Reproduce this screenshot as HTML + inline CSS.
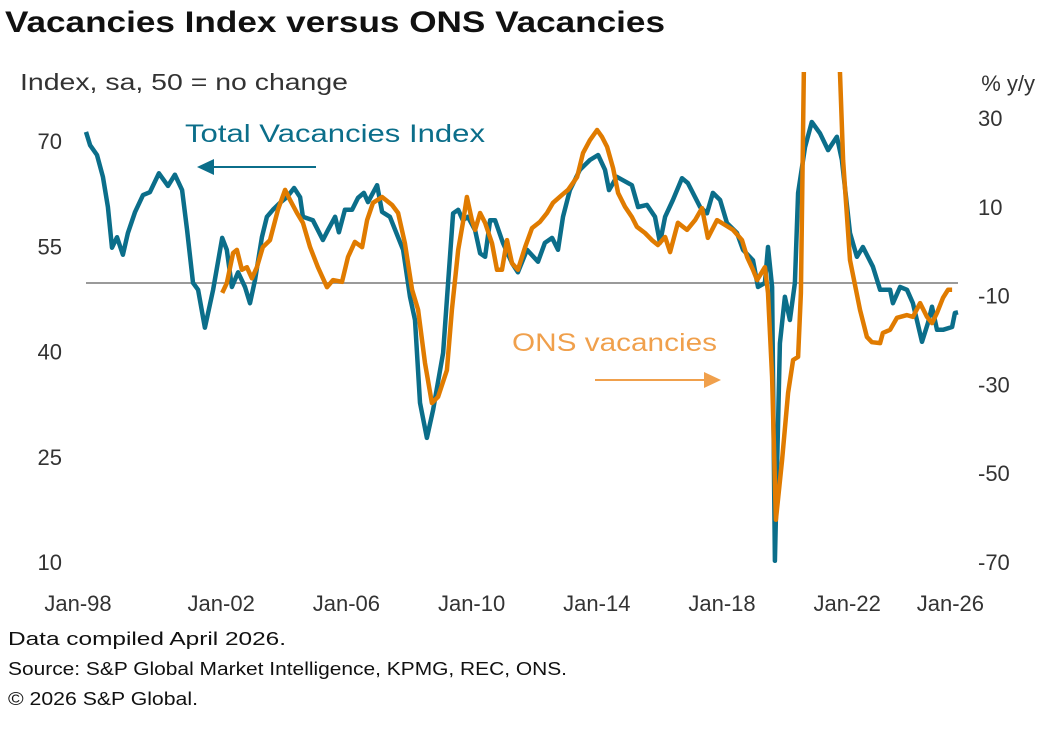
<!DOCTYPE html>
<html><head><meta charset="utf-8"><style>
body{margin:0;background:#fff;font-family:"Liberation Sans",sans-serif;}
svg text{font-family:"Liberation Sans",sans-serif;}
</style></head><body>
<svg id="c" width="1053" height="727" viewBox="0 0 1053 727">
<text x="5" y="32" font-size="30" font-weight="bold" fill="#111" textLength="660" lengthAdjust="spacingAndGlyphs">Vacancies Index versus ONS Vacancies</text>
<text x="20" y="90" font-size="23" fill="#333" textLength="328" lengthAdjust="spacingAndGlyphs">Index, sa, 50 = no change</text>
<text x="1035" y="91" font-size="22" fill="#333" text-anchor="end">% y/y</text>
<g id="ticks"></g>
<defs><clipPath id="clip"><rect x="60" y="72" width="920" height="500"/></clipPath></defs>
<line x1="86" y1="283" x2="958" y2="283" stroke="#9a9a9a" stroke-width="2"/>
<g clip-path="url(#clip)">
<path id="teal" fill="none" stroke="#0b6e8a" stroke-width="4.5" stroke-linejoin="round"/>
<path id="orange" fill="none" stroke="#e07b00" stroke-width="4.5" stroke-linejoin="round"/>
</g>
<text x="185" y="142" font-size="25" fill="#0b6e8a" textLength="300" lengthAdjust="spacingAndGlyphs">Total Vacancies Index</text>
<g><line x1="316" y1="167" x2="212" y2="167" stroke="#0b6e8a" stroke-width="2"/><polygon points="197,167 214,159 214,175" fill="#0b6e8a"/></g>
<text x="512" y="351" font-size="25" fill="#f0a04c" textLength="205" lengthAdjust="spacingAndGlyphs">ONS vacancies</text>
<g><line x1="595" y1="380" x2="705" y2="380" stroke="#f0a04c" stroke-width="2"/><polygon points="721,380 704,372 704,388" fill="#f0a04c"/></g>
<text x="8" y="645" font-size="18" fill="#111" textLength="278" lengthAdjust="spacingAndGlyphs">Data compiled April 2026.</text>
<text x="8" y="675" font-size="18" fill="#111" textLength="559" lengthAdjust="spacingAndGlyphs">Source: S&amp;P Global Market Intelligence, KPMG, REC, ONS.</text>
<text x="8" y="705" font-size="18" fill="#111" textLength="190" lengthAdjust="spacingAndGlyphs">© 2026 S&amp;P Global.</text>
</svg>
<script>
const leftTicks=[70,55,40,25,10];
const rightTicks=[30,10,-10,-30,-50,-70];
const xTickYears=[1998,2002,2006,2010,2014,2018,2022,2026];
const xTickLabels=["Jan-98","Jan-02","Jan-06","Jan-10","Jan-14","Jan-18","Jan-22","Jan-26"];
const idxDates=[1998.0,1998.13,1998.35,1998.54,1998.70,1998.83,1998.99,1999.18,1999.34,1999.57,1999.82,2000.04,2000.33,2000.62,2000.84,2001.07,2001.23,2001.42,2001.58,2001.80,2002.06,2002.35,2002.50,2002.66,2002.86,2003.08,2003.24,2003.40,2003.62,2003.78,2003.97,2004.20,2004.42,2004.65,2004.84,2004.93,2005.25,2005.57,2005.73,2005.96,2006.08,2006.27,2006.50,2006.69,2006.88,2007.01,2007.30,2007.46,2007.71,2008.13,2008.35,2008.51,2008.67,2008.89,2009.09,2009.41,2009.57,2009.73,2009.89,2010.04,2010.20,2010.43,2010.59,2010.75,2010.91,2011.07,2011.32,2011.61,2011.80,2012.09,2012.44,2012.66,2012.89,2013.08,2013.24,2013.46,2013.78,2014.10,2014.36,2014.58,2014.71,2014.96,2015.16,2015.44,2015.64,2015.92,2016.18,2016.34,2016.50,2016.75,2017.04,2017.23,2017.39,2017.62,2017.84,2018.03,2018.26,2018.48,2018.80,2018.99,2019.31,2019.47,2019.69,2019.79,2019.92,2020.01,2020.17,2020.33,2020.49,2020.65,2020.75,2020.97,2021.19,2021.45,2021.71,2021.99,2022.15,2022.41,2022.63,2022.82,2023.14,2023.37,2023.69,2023.78,2024.01,2024.23,2024.42,2024.71,2024.90,2025.03,2025.19,2025.38,2025.67,2025.76,2025.86];
const idxValues=[71.3,69.4,68.0,64.9,60.6,54.8,56.3,53.8,56.9,59.9,62.3,62.7,65.4,63.6,65.2,63.0,57.3,49.8,48.8,43.4,48.8,56.2,54.5,49.2,51.3,49.2,46.9,50.2,56.3,59.2,60.2,61.2,62.0,63.3,62.0,59.2,58.7,55.9,57.3,59.2,57.0,60.2,60.2,61.9,62.6,61.3,63.7,59.9,59.2,54.5,47.8,44.5,32.7,27.7,31.7,39.8,49.8,59.7,60.2,58.7,59.2,57.3,54.0,53.5,58.7,58.7,55.5,52.6,51.3,54.5,52.8,55.5,56.2,54.5,59.2,63.0,65.9,67.3,68.0,65.9,63.0,64.9,64.4,63.7,60.6,60.9,59.2,55.5,59.2,61.6,64.7,64.0,62.6,60.6,59.7,62.6,61.6,58.3,56.9,54.5,53.0,49.2,49.8,54.9,49.2,10.2,41.2,47.8,44.5,49.8,62.6,69.1,72.7,71.1,68.7,70.6,67.3,56.9,53.5,54.9,52.1,48.8,48.8,46.9,49.2,48.8,46.9,41.4,44.1,46.4,43.1,43.1,43.5,45.5,45.6];
const onsDates=[2002.35,2002.50,2002.70,2002.82,2002.98,2003.14,2003.30,2003.46,2003.65,2003.88,2004.13,2004.36,2004.52,2004.74,2004.93,2005.16,2005.41,2005.70,2005.89,2006.18,2006.37,2006.59,2006.82,2006.98,2007.17,2007.46,2007.78,2007.97,2008.19,2008.42,2008.61,2008.83,2009.05,2009.25,2009.53,2009.69,2009.89,2010.04,2010.17,2010.33,2010.43,2010.59,2010.75,2010.97,2011.13,2011.29,2011.45,2011.61,2011.80,2012.03,2012.25,2012.50,2012.73,2012.92,2013.21,2013.40,2013.69,2013.88,2014.10,2014.33,2014.49,2014.65,2014.84,2015.00,2015.22,2015.44,2015.60,2015.86,2016.08,2016.27,2016.50,2016.66,2016.91,2017.20,2017.46,2017.68,2017.87,2018.16,2018.42,2018.67,2018.96,2019.12,2019.31,2019.44,2019.69,2019.79,2019.92,2020.04,2020.24,2020.43,2020.59,2020.75,2020.84,2020.97,2021.40,2021.95,2022.09,2022.19,2022.41,2022.73,2022.95,2023.11,2023.37,2023.46,2023.69,2023.91,2024.23,2024.42,2024.65,2024.87,2025.03,2025.19,2025.38,2025.54,2025.67];
const onsValues=[-9.4,-7.2,-0.4,0.3,-4.2,-3.6,-6.1,-3.6,0.9,2.5,9.3,13.8,11.5,8.6,6.4,0.9,-3.6,-8.1,-6.5,-6.9,-1.3,2.1,0.9,7.0,10.9,12.2,10.4,8.6,1.8,-8.7,-13.2,-25.2,-34.2,-32.8,-26.8,-13.2,0.3,6.4,12.2,7.0,4.8,8.6,6.4,1.8,-4.2,-4.2,2.5,-2.7,-4.2,0.9,5.2,6.6,8.6,10.9,12.7,13.8,16.7,22.1,25.0,27.3,25.7,23.5,18.7,13.1,10.0,7.7,5.5,4.1,2.5,1.4,3.2,-0.2,6.4,4.8,7.0,9.7,3.0,7.0,5.9,4.8,2.5,-1.3,-4.2,-6.5,-3.6,-9.4,-28.3,-60.5,-47.0,-31.9,-24.5,-23.8,-9.4,60,110,60,40.1,20.5,-2.0,-13.2,-19.3,-20.5,-20.7,-18.4,-17.7,-15.0,-14.4,-14.8,-11.7,-14.8,-16.2,-13.9,-10.5,-8.7,-8.7];
function xS(t){return 86+(t-1998)*31.3;}
function yL(v){return 141+(70-v)*7.02;}
function yR(v){return 118+(30-v)*4.44;}
function path(ds,vs,f){return ds.map((d,i)=>(i?'L':'M')+xS(d).toFixed(1)+','+f(vs[i]).toFixed(1)).join('');}
document.getElementById('teal').setAttribute('d',path(idxDates,idxValues,yL));
document.getElementById('orange').setAttribute('d',path(onsDates,onsValues,yR));
const NS='http://www.w3.org/2000/svg',g=document.getElementById('ticks');
function txt(x,y,s,anchor,name){const t=document.createElementNS(NS,'text');t.setAttribute('x',x);t.setAttribute('y',y);t.setAttribute('font-size','22');t.setAttribute('fill','#333');t.setAttribute('text-anchor',anchor);t.textContent=s;


g.appendChild(t);}
leftTicks.forEach(v=>txt(62,yL(v)+8,String(v),'end','left-tick-label'));
rightTicks.forEach(v=>txt(978,yR(v)+8,String(v),'start','right-tick-label'));
xTickYears.forEach((yv,i)=>{let x=xS(yv);if(i>0&&i<xTickYears.length-1)x+=10;if(i===0)x-=8;if(i===xTickYears.length-1)x-=12;txt(x,611,xTickLabels[i],'middle','x-tick-label');});
</script>
</body></html>
